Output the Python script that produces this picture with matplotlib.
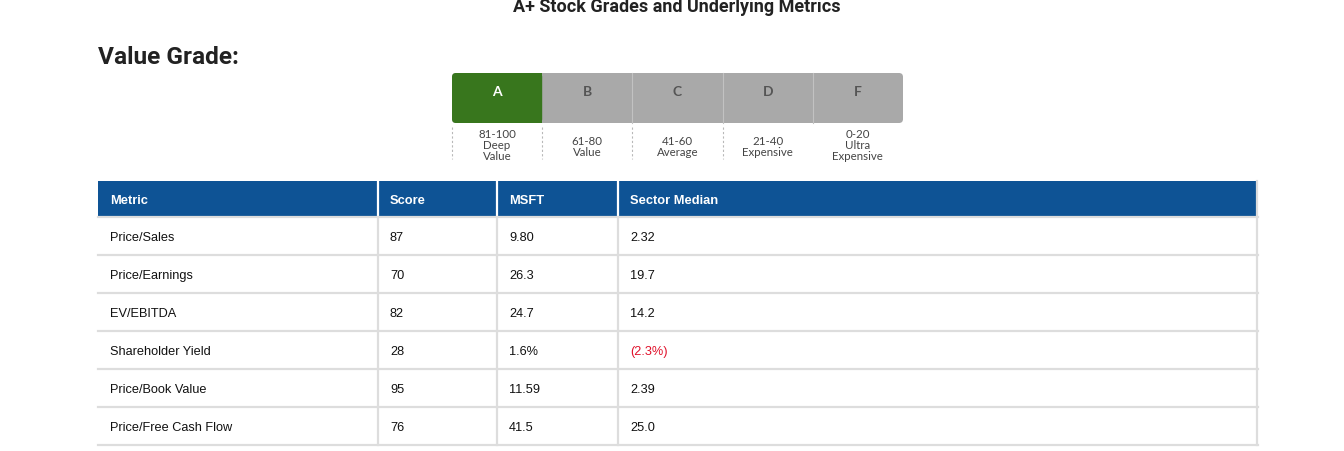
import matplotlib.pyplot as plt
from matplotlib.patches import Rectangle, FancyBboxPatch

# grade scale
grades = ['A', 'B', 'C', 'D', 'F']
grade_ranges = ['81-100', '61-80', '41-60', '21-40', '0-20']
grade_names = ['Deep\nValue', 'Value', 'Average', 'Expensive', 'Ultra\nExpensive']
current_grade = 'A'

# metrics table
columns = ['Metric', 'Score', 'MSFT', 'Sector Median']
metrics = ['Price/Sales', 'Price/Earnings', 'EV/EBITDA', 'Shareholder Yield',
           'Price/Book Value', 'Price/Free Cash Flow']
scores = [87, 70, 82, 28, 95, 76]
msft = ['9.80', '26.3', '24.7', '1.6%', '11.59', '41.5']
sector_median = ['2.32', '19.7', '14.2', '(2.3%)', '2.39', '25.0']

W, H = 1344, 452
fig = plt.figure(figsize=(W / 100, H / 100), dpi=100)
ax = fig.add_axes([0, 0, 1, 1])
ax.set_xlim(0, W)
ax.set_ylim(H, 0)
ax.axis('off')

# titles
ax.text(677, 7, 'A+ Stock Grades and Underlying Metrics', ha='center', va='center',
        fontsize=13, fontweight='bold', family='Roboto', color='#222222')
ax.text(98, 57, 'Value Grade:', ha='left', va='center', fontsize=17.6,
        fontweight='bold', family='Roboto', color='#222222')

# grade bar
bar_x0, bar_x1 = 452, 903
bar_y0, bar_y1 = 74, 124
seg_w = (bar_x1 - bar_x0) / len(grades)
green = '#38761d'
gray = '#a9a9a9'
ax.add_patch(FancyBboxPatch((bar_x0, bar_y0), bar_x1 - bar_x0, bar_y1 - bar_y0,
                            boxstyle='round,pad=0,rounding_size=4',
                            fc=gray, ec='none'))
for i, g in enumerate(grades):
    sx = bar_x0 + i * seg_w
    cx = sx + seg_w / 2
    if g == current_grade:
        if i == 0:
            ax.add_patch(FancyBboxPatch((sx, bar_y0), seg_w, bar_y1 - bar_y0,
                                        boxstyle='round,pad=0,rounding_size=4',
                                        fc=green, ec='none'))
            ax.add_patch(Rectangle((sx + seg_w / 2, bar_y0), seg_w / 2,
                                   bar_y1 - bar_y0, fc=green, ec='none'))
        else:
            ax.add_patch(Rectangle((sx, bar_y0), seg_w, bar_y1 - bar_y0,
                                   fc=green, ec='none'))
    elif i > 0 and grades[i - 1] != current_grade:
        ax.plot([sx, sx], [bar_y0, bar_y1], color='#c2c2c2', lw=0.8)
    color = 'white' if g == current_grade else '#555555'
    ax.text(cx, 92, g, ha='center', va='center', fontsize=10, fontweight='bold',
            family='Lato', color=color)
    label = grade_ranges[i] + '\n' + grade_names[i]
    ax.text(cx, 146 if '\n' in grade_names[i] else 147, label, ha='center',
            va='center', fontsize=8.3, family='Lato', color='#444444',
            linespacing=1.0)
    if i < len(grades) - 1:
        ax.plot([sx, sx], [128, 160], color='#b8b8b8', lw=0.8,
                linestyle=(0, (2, 2)))

# table
tx0, tx1 = 98, 1257
col_x = [98, 378, 497, 618]
head_y0, head_y1 = 182, 218
row_h = 38
blue = '#0e5395'
line_gray = '#dddddd'
n = len(metrics)
bottom = head_y1 + n * row_h

ax.add_patch(Rectangle((tx0, head_y0), tx1 - tx0, head_y1 - head_y0, fc=blue, ec='none'))
for x in col_x[1:]:
    ax.plot([x, x], [head_y0, head_y1], color='white', lw=1.6)
    ax.plot([x, x], [head_y1, bottom], color=line_gray, lw=1.6)
ax.plot([tx1, tx1], [head_y0, bottom], color=line_gray, lw=1.6)
for r in range(n + 1):
    y = head_y1 + r * row_h
    ax.plot([tx0, tx1 + 1], [y, y], color=line_gray, lw=1.6)

for j, c in enumerate(columns):
    ax.text(col_x[j] + 12, (head_y0 + head_y1) / 2 + 1, c, ha='left', va='center',
            fontsize=9.3, fontweight='bold', family='Liberation Sans', color='white')

for r in range(n):
    yc = head_y1 + r * row_h + row_h / 2 + 1.5
    vals = [metrics[r], str(scores[r]), msft[r], sector_median[r]]
    for j, v in enumerate(vals):
        color = '#e0102a' if v.startswith('(') else '#111111'
        ax.text(col_x[j] + 12, yc, v, ha='left', va='center', fontsize=9.2,
                family='Liberation Sans', color=color)

fig.savefig('out.png', dpi=100)
